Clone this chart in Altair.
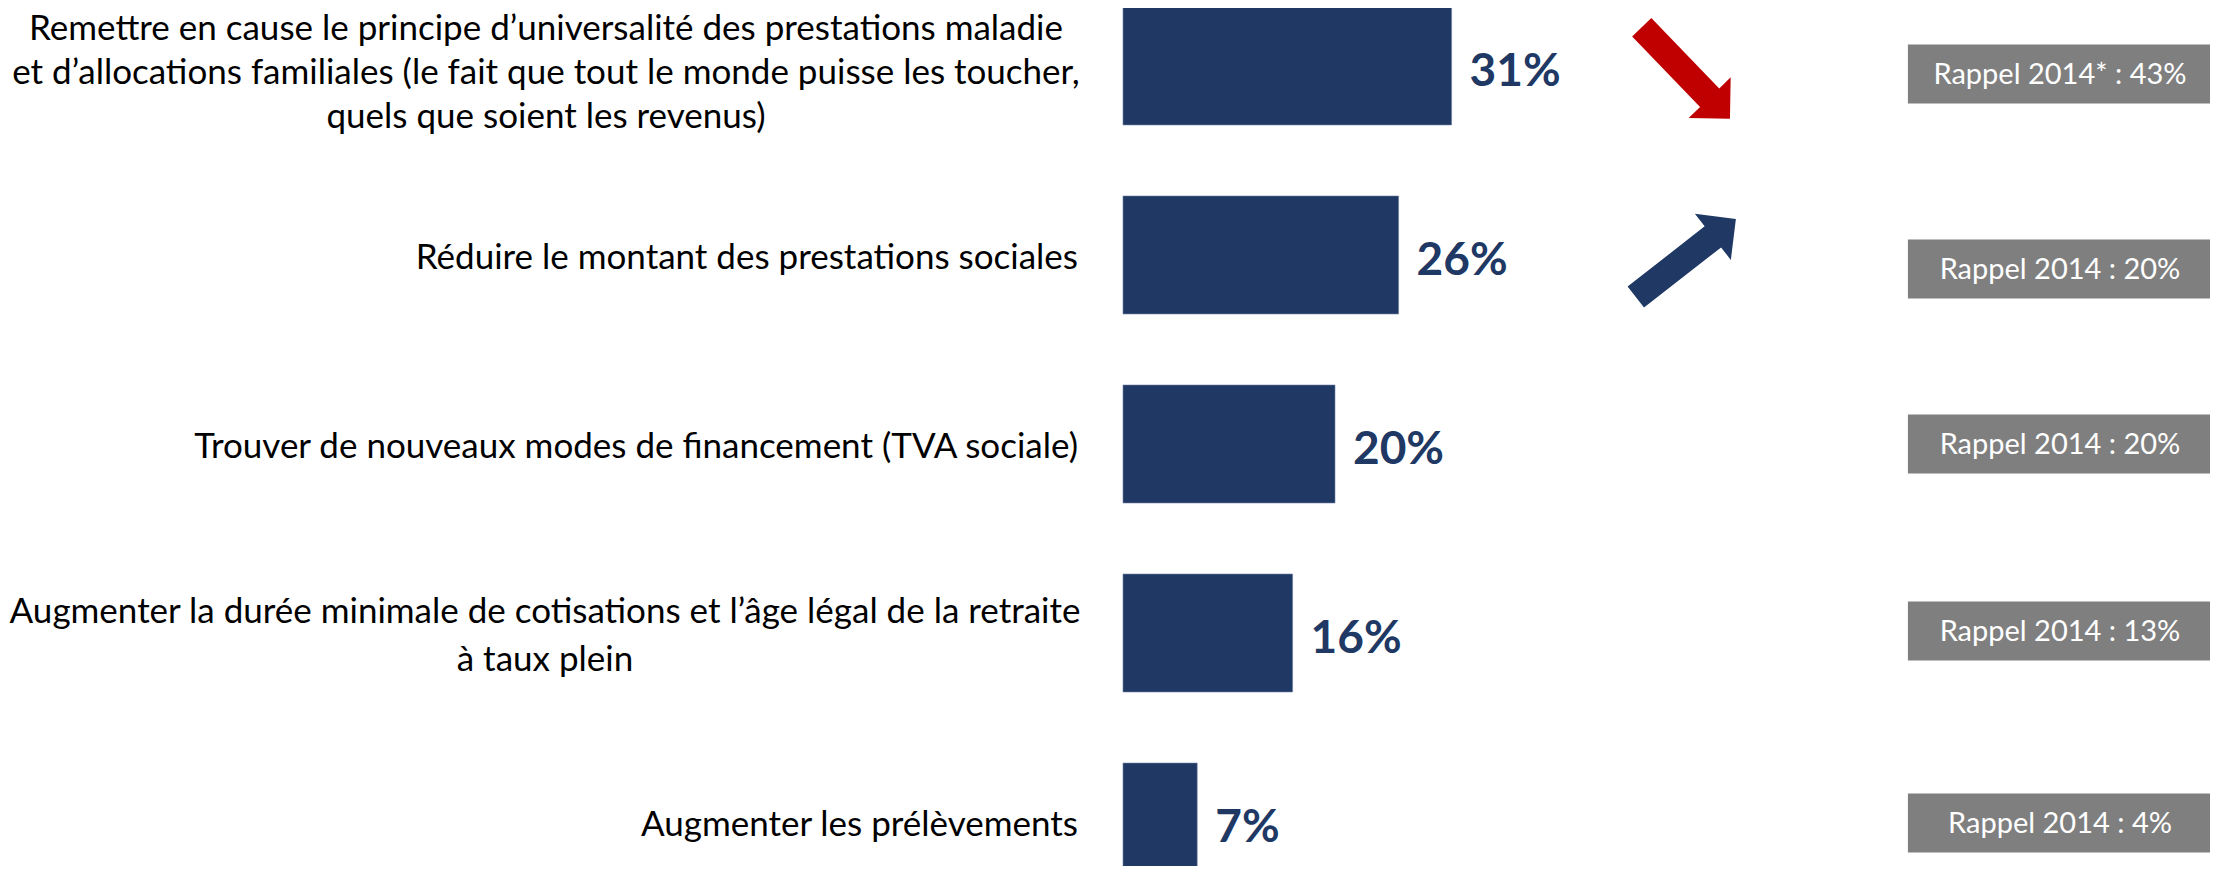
import altair as alt
import pandas as pd

# ---- data ----
categories = [
    "Remettre en cause le principe d’universalité des prestations maladie\net d’allocations familiales (le fait que tout le monde puisse les toucher,\nquels que soient les revenus)",
    "Réduire le montant des prestations sociales",
    "Trouver de nouveaux modes de financement (TVA sociale)",
    "Augmenter la durée minimale de cotisations et l’âge légal de la retraite\nà taux plein",
    "Augmenter les prélèvements",
]
values = [31, 26, 20, 16, 7]
rappel_labels = [
    "Rappel 2014* : 43%",
    "Rappel 2014 : 20%",
    "Rappel 2014 : 20%",
    "Rappel 2014 : 13%",
    "Rappel 2014 : 4%",
]
trend = ["baisse", "hausse", "", "", ""]

NAVY = "#203864"
RED = "#C00000"
GREY = "#7F7F7F"
FONT = "Lato"

df = pd.DataFrame({
    "cat": categories,
    "val": values,
    "rappel": rappel_labels,
    "trend": trend,
    "lines": [c.count("\n") + 1 for c in categories],
    "idx": list(range(len(categories))),
})

y_enc = alt.Y(
    "cat:N", sort=None, axis=None,
    scale=alt.Scale(range=[-1, 873], paddingInner=0.376, paddingOuter=0),
)
x_scale = alt.Scale(domain=[0, 102.55], nice=False, zero=True)

base = alt.Chart(df)

bars = base.mark_bar(color=NAVY, stroke="#6d7fa3", strokeWidth=0.6).encode(
    x=alt.X("val:Q", scale=x_scale, axis=None),
    y=y_enc,
)

pct = base.transform_calculate(lbl="datum.val + '%'").mark_text(
    align="left", baseline="middle", dx=18, dy=6,
    font=FONT, fontSize=46, fontWeight="bold", color=NAVY,
).encode(
    x=alt.X("val:Q", scale=x_scale, axis=None),
    y=y_enc,
    text="lbl:N",
)

# left labels: single-line ones right aligned, multi-line ones centred
single = base.transform_filter("datum.lines == 1").mark_text(
    align="right", baseline="middle", font=FONT, fontSize=35, color="#000000", dy=3,
).encode(x=alt.value(-45), y=y_enc, text="cat:N")

lab1 = base.transform_filter("datum.idx == 0").mark_text(
    align="center", baseline="middle", font=FONT, fontSize=35, color="#000000",
    lineBreak="\n", lineHeight=44, dy=-37,
).encode(x=alt.value(-577), y=y_enc, text="cat:N")

lab4 = base.transform_filter("datum.idx == 3").mark_text(
    align="center", baseline="middle", font=FONT, fontSize=35, color="#000000",
    lineBreak="\n", lineHeight=48, dy=-21,
).encode(x=alt.value(-578), y=y_enc, text="cat:N")

# grey "Rappel 2014" boxes (rows 1 and 2 sit a little lower in the reference)
box_shift = {0: 8, 1: 14, 2: 0, 3: -2, 4: 1}
box_layers = []
for i, off in box_shift.items():
    sub = base.transform_filter(f"datum.idx == {i}")
    box_layers.append(sub.mark_bar(color=GREY, size=59, yOffset=off).encode(
        x=alt.datum(74.05, scale=x_scale),
        x2=alt.datum(102.55),
        y=y_enc,
    ))
    box_layers.append(sub.mark_text(
        align="center", baseline="middle", font=FONT, fontSize=29,
        color="#FFFFFF", dy=1 + off,
    ).encode(
        x=alt.datum(88.4, scale=x_scale),
        y=y_enc,
        text="rappel:N",
    ))

ARROW = "M-1,-0.21L0.54,-0.21L0.54,-0.46L1,0L0.54,0.46L0.54,0.21L-1,0.21Z"

arrow_down = base.transform_filter("datum.trend == 'baisse'").mark_point(
    shape=ARROW, size=16129, angle=46, filled=True, fill=RED,
    strokeWidth=0, opacity=1, yOffset=7,
).encode(x=alt.datum(53.1, scale=x_scale), y=y_enc)

arrow_up = base.transform_filter("datum.trend == 'hausse'").mark_point(
    shape=ARROW, size=16129, angle=322, filled=True, fill=NAVY,
    strokeWidth=0, opacity=1, yOffset=3,
).encode(x=alt.datum(53.1, scale=x_scale), y=y_enc)

chart = alt.layer(
    bars, pct, single, lab1, lab4, *box_layers, arrow_down, arrow_up
).properties(
    width=1087, height=858,
    autosize=alt.AutoSizeParams(type="none"),
    padding={"left": 1115, "top": 0, "right": 0, "bottom": 0},
    background="#FFFFFF",
).configure_view(stroke=None)

chart.save("out.html", embed_options={"renderer": "svg", "actions": False})
